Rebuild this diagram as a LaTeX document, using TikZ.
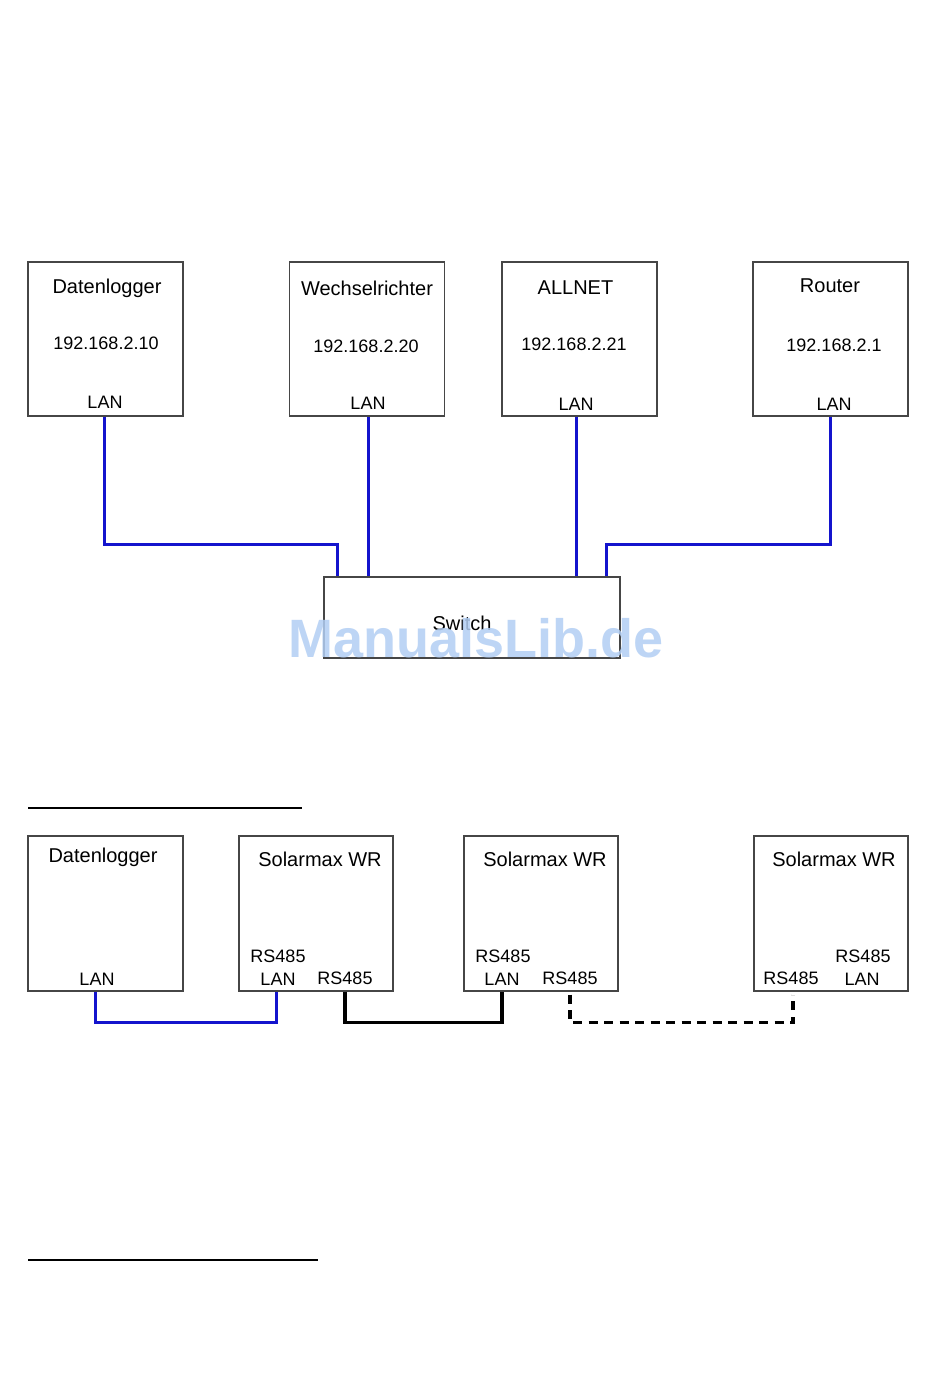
\documentclass[tikz,border=0pt]{standalone}
\usepackage{fontspec}
\setmainfont{Liberation Sans}
\definecolor{LANblue}{RGB}{20,20,205}
\definecolor{Boxgray}{RGB}{70,70,70}
\definecolor{Markblue}{RGB}{178,206,243}

\begin{document}
\begin{tikzpicture}[x=1pt,y=-1pt,line join=miter,
  box/.style={draw=Boxgray,line width=1.2pt,inner sep=0pt,minimum width=155pt,minimum height=154pt},
  ttl/.style={anchor=base,inner sep=0pt,font=\fontsize{20}{22}\selectfont},
  lbl/.style={anchor=base,inner sep=0pt,font=\fontsize{18}{20}\selectfont},
  lan/.style={draw=LANblue,line width=3pt},
  bus/.style={draw=black,line width=3.2pt}]
\path[use as bounding box] (0,0) rectangle (950,1383);
% Ethernet: four devices on the switch
\node[box] (dl) at (105.5,339) {};
\node[box] (wr) at (367,339) {};
\node[box] (an) at (579.5,339) {};
\node[box] (rt) at (830.5,339) {};
\node[box,minimum width=296pt,minimum height=81pt] (sw) at (472,617.5) {};
\node[ttl] (dlname) at (107,293) {Datenlogger};
\node[lbl] (dlip) at (106,349) {192.168.2.10};
\node[lbl] (dllan) at (105,408) {LAN};
\node[ttl] (wrname) at (367,295) {Wechselrichter};
\node[lbl] (wrip) at (366,352) {192.168.2.20};
\node[lbl] (wrlan) at (368,409) {LAN};
\node[ttl] (anname) at (575.5,294) {ALLNET};
\node[lbl] (anip) at (574,350) {192.168.2.21};
\node[lbl] (anlan) at (576,410) {LAN};
\node[ttl] (rtname) at (830,292) {Router};
\node[lbl] (rtip) at (834,351) {192.168.2.1};
\node[lbl] (rtlan) at (834,410) {LAN};
\node[ttl] (swname) at (462,630) {Switch};
\coordinate (swa) at ([xshift=14pt]sw.north west);
\coordinate (swd) at ([xshift=-14pt]sw.north east);
\draw[lan] ([xshift=-1.5pt]dl.south) -- ++(0,128) -| (swa);
\draw[lan] (wrlan |- wr.south) -- (wrlan |- sw.north);
\draw[lan] (anlan |- an.south) -- (anlan |- sw.north);
\draw[lan] (rt.south) -- ++(0,128) -| (swd);
% RS485 chain
\draw[line width=1.5pt] (28,808) -- (302,808);
\node[box,minimum height=155pt] (dlb) at (105.5,913.5) {};
\node[box,minimum width=154pt,minimum height=155pt] (sma) at (316,913.5) {};
\node[box,minimum width=154pt,minimum height=155pt] (smb) at (541,913.5) {};
\node[box,minimum width=154pt,minimum height=155pt] (smc) at (831,913.5) {};
\node[ttl] (dlbname) at (103,862) {Datenlogger};
\node[lbl] (dlblan) at (97,985) {LAN};
\node[ttl] (smaname) at (320,866) {Solarmax WR};
\node[lbl] (smarsu) at (278,962) {RS485};
\node[lbl] (smalan) at (278,985) {LAN};
\node[lbl] (smars) at (345,984) {RS485};
\node[ttl] (smbname) at (545,866) {Solarmax WR};
\node[lbl] (smbrsu) at (503,962) {RS485};
\node[lbl] (smblan) at (502,985) {LAN};
\node[lbl] (smbrs) at (570,984) {RS485};
\node[ttl] (smcname) at (834,866) {Solarmax WR};
\node[lbl] (smcrsu) at (863,962) {RS485};
\node[lbl] (smclan) at (862,985) {LAN};
\node[lbl] (smcrs) at (791,984) {RS485};
\draw[lan] ([xshift=-2pt]dlblan |- dlb.south) -- ++(0,31) -| ([xshift=-2pt]smalan |- sma.south);
\draw[bus] (smars |- sma.south) -- ++(0,31) -| (smblan |- smb.south);
\draw[bus,dash pattern=on 9pt off 6.5pt] ([yshift=-3pt]smbrs |- smb.south) -- ++(0,28) -| ([yshift=-3pt,xshift=2pt]smcrs |- smc.south);
\draw[line width=1.5pt] (28,1260) -- (318,1260);
% watermark
\node[anchor=base,inner sep=0pt,text=Markblue,opacity=0.85,font=\bfseries\fontsize{54}{56}\selectfont] (mark) at (476,657) {ManualsLib.de};
\end{tikzpicture}
\end{document}
